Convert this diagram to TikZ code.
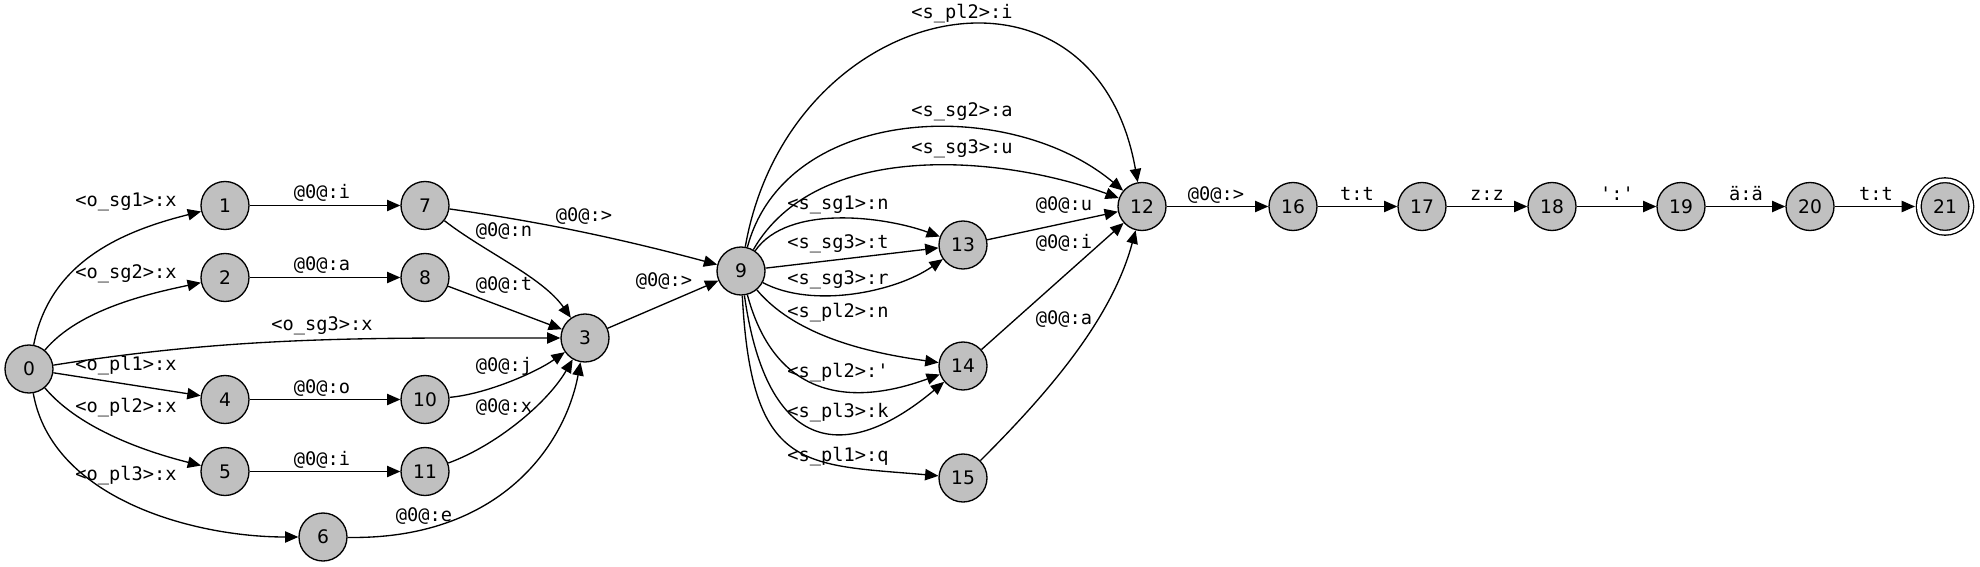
\documentclass[tikz,border=0pt]{standalone}
\usepackage{fontspec}
\setmainfont{DejaVu Sans}
\setmonofont{DejaVu Sans Mono}
\usepackage{tikz}
\usetikzlibrary{arrows.meta}
\definecolor{stategray}{RGB}{192,192,192}

\begin{document}
\begin{tikzpicture}[x=0.75pt, y=-0.75pt,
			state/.style={circle, draw=black, line width=1pt, fill=stategray, inner sep=0pt,
					minimum size=36pt, font=\fontsize{14}{17}\selectfont},
			finalstate/.style={state, double, double distance=2.6pt, minimum size=39.4pt, outer sep=2.8pt},
			edgelabel/.style={inner sep=0pt, text height=7pt, text depth=0pt,
					font=\ttfamily\fontsize{14}{17}\selectfont},
			line/.style={draw, line width=1pt, -{Triangle[length=10pt, width=8.5pt]}}]

		\useasboundingbox (0,0) rectangle (1980,567);

		% Define states
		\foreach \n/\x/\y in {0/29/369, 1/225/205.5, 2/225/277.5, 3/585/338, 4/225/399.5, 5/225/471.5,
				6/323/537, 7/425/205.5, 8/425/277.5, 9/741/271, 10/425/399.5, 11/425/471.5,
				12/1142/206.5, 13/963/245, 14/963/366, 15/963/478, 16/1293/206.5,
				17/1422/206.5, 18/1552/206.5, 19/1681/206.5, 20/1810/206.5}
			{\node [state] (s\n) at (\x,\y) {\n};}
		\node [finalstate] (s21) at (1945,206.5) {21};

		% Draw straight transitions
		\foreach \a/\b in {s1/s7, s2/s8, s4/s10, s5/s11, s0/s4, s8/s3, s3/s9, s9/s13, s13/s12,
				s14/s12, s12/s16, s16/s17, s17/s18, s18/s19, s19/s20, s20/s21}
			{\path [line] (\a) -- (\b);}

		% Draw curved transitions
		\path [line] (s0) to[out=79, in=194, looseness=1.0] (s1);
		\path [line] (s0) to[out=50, in=192, looseness=0.8] (s2);
		\path [line] (s0) to[out=9, in=180, looseness=0.95] (s3);
		\path [line] (s0) to[out=-50, in=166, looseness=0.8] (s5);
		\path [line] (s0) to[out=-80, in=180, looseness=0.9] (s6);
		\path [line] (s7) to[out=-8, in=165, looseness=0.9] (s9);
		\path [line] (s7) to[out=-38, in=125, looseness=0.8] (s3);
		\path [line] (s10) to[out=5, in=-145, looseness=0.75] (s3);
		\path [line] (s11) to[out=20, in=-120, looseness=0.8] (s3);
		\path [line] (s6) .. controls (500,540) and (565,445) .. (s3);
		\path [line] (s9) to[out=80, in=100, looseness=1.62] (s12);
		\path [line] (s9) to[out=75, in=140, looseness=1.0] (s12);
		\path [line] (s9) to[out=60, in=160, looseness=0.88] (s12);
		\path [line] (s9) to[out=55, in=160, looseness=0.8] (s13);
		\path [line] (s9) to[out=-28, in=-145, looseness=0.8] (s13);
		\path [line] (s9) to[out=-50, in=172, looseness=0.83] (s14);
		\path [line] (s9) to[out=-75, in=-160, looseness=1.25] (s14);
		\path [line] (s9) to[out=-82, in=-140, out looseness=1.9, in looseness=1.5] (s14);
		\path [line] (s9) to[out=-87, in=175, out looseness=1.7, in looseness=1.3] (s15);
		\path [line] (s15) to[out=45, in=-105, looseness=0.86] (s12);

		% Add transition labels
		\foreach \nm/\x/\y/\t in {l01/126/202/{<o\_sg1>:x}, l02/126/274/{<o\_sg2>:x},
				l03/322/326/{<o\_sg3>:x}, l04/126/366/{<o\_pl1>:x}, l05/126/408/{<o\_pl2>:x},
				l06/126/476/{<o\_pl3>:x}, l17/322/194/{@0@:i}, l28/322/266/{@0@:a},
				l410/322/389/{@0@:o}, l511/322/461/{@0@:i}, l63/424/517/{@0@:e},
				l79/584/217/{@0@:>}, l73/504/232/{@0@:n}, l83/504/286/{@0@:t},
				l103/504/367/{@0@:j}, l113/504/408/{@0@:x}, l39/664/282/{@0@:>},
				l912a/962/14/{<s\_pl2>:i}, l912b/962/112/{<s\_sg2>:a}, l912c/962/149/{<s\_sg3>:u},
				l913a/838/205/{<s\_sg1>:n}, l913b/838/244/{<s\_sg3>:t}, l913c/838/280/{<s\_sg3>:r},
				l914a/838/313/{<s\_pl2>:n}, l914b/838/373/{<s\_pl2>:'}, l914c/838/413/{<s\_pl3>:k},
				l915/838/457/{<s\_pl1>:q}, l1312/1064/206/{@0@:u}, l1412/1064/244/{@0@:i},
				l1512/1064/320/{@0@:a}, l1216/1216/196/{@0@:>}, l1617/1357/196/{t:t},
				l1718/1487/196/{z:z}, l1819/1617/196/{':'}, l1920/1746/196/{ä:ä},
				l2021/1876/196/{t:t}}
			{\node [edgelabel] (\nm) at (\x,\y) {\t};}

	\end{tikzpicture}
\end{document}
